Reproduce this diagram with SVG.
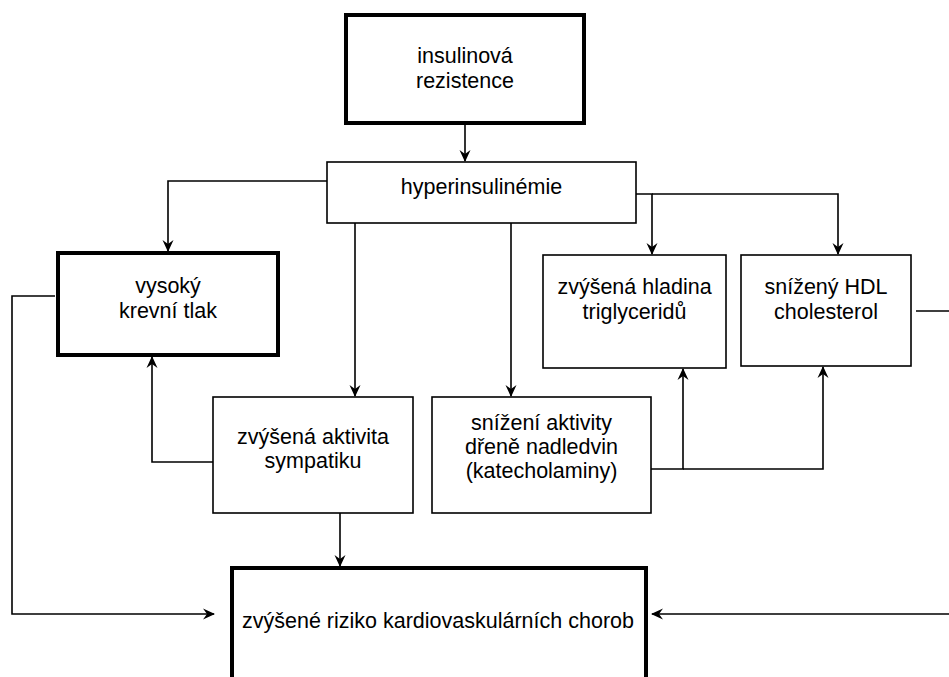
<svg xmlns="http://www.w3.org/2000/svg" width="949" height="677" viewBox="0 0 949 677">
<style>
  .box { fill: #ffffff; stroke: #000000; stroke-width: 1.6; }
  .thick { fill: #ffffff; stroke: #000000; stroke-width: 4; }
  .lbl { font-family: "Liberation Sans", Arial, Helvetica, sans-serif; font-size: 21.5px; fill: #000000; text-anchor: middle; }
  .conn { fill: none; stroke: #000000; stroke-width: 1.6; marker-end: url(#arr); }
</style>
<defs>
  <marker id="arr" viewBox="0 0 12 12" refX="11" refY="6" markerWidth="12" markerHeight="12" markerUnits="userSpaceOnUse" orient="auto">
    <path d="M0,0.5 L12,6 L0,11.5 L4,6 Z" fill="#000000"/>
  </marker>
</defs>
<rect width="949" height="677" fill="#ffffff"/>
<g id="connectors">
  <path class="conn" d="M465,123 V161"/>
  <path class="conn" d="M327,181 H168 V251"/>
  <path class="conn" d="M355,223 V396"/>
  <path class="conn" d="M511,223 V396"/>
  <path class="conn" d="M636,194 H652 V254"/>
  <path class="conn" d="M652,194 H838 V254"/>
  <path class="conn" d="M213,462 H152 V357"/>
  <path class="conn" d="M55,296 H12 V614 H214"/>
  <path class="conn" d="M651,469 H683 V369"/>
  <path class="conn" d="M683,469 H823 V367"/>
  <path class="conn" d="M340,513 V566"/>
  <path class="conn" d="M916,311 H952 V614 H652"/>
</g>
<g id="insulinova-rezistence">
  <rect class="thick" x="346" y="15" width="238" height="108"/>
  <text class="lbl" x="465" y="63">insulinová</text>
  <text class="lbl" x="465" y="88">rezistence</text>
</g>
<g id="hyperinsulinemie">
  <rect class="box" x="327" y="162" width="309" height="61"/>
  <text class="lbl" x="481.5" y="194">hyperinsulinémie</text>
</g>
<g id="vysoky-krevni-tlak">
  <rect class="thick" x="58" y="253" width="220" height="102"/>
  <text class="lbl" x="168" y="293">vysoký</text>
  <text class="lbl" x="168" y="318">krevní tlak</text>
</g>
<g id="trigliceridy">
  <rect class="box" x="543" y="255" width="183" height="113"/>
  <text class="lbl" x="634.5" y="294">zvýšená hladina</text>
  <text class="lbl" x="634.5" y="319">triglyceridů</text>
</g>
<g id="hdl">
  <rect class="box" x="741" y="255" width="170" height="111"/>
  <text class="lbl" x="826" y="294">snížený HDL</text>
  <text class="lbl" x="826" y="319">cholesterol</text>
</g>
<g id="sympatikus">
  <rect class="box" x="213" y="397" width="200" height="116"/>
  <text class="lbl" x="313" y="444">zvýšená aktivita</text>
  <text class="lbl" x="313" y="468">sympatiku</text>
</g>
<g id="dren-nadledvin">
  <rect class="box" x="432" y="397" width="219" height="116"/>
  <text class="lbl" x="541.5" y="430">snížení aktivity</text>
  <text class="lbl" x="541.5" y="454">dřeně nadledvin</text>
  <text class="lbl" x="541.5" y="478">(katecholaminy)</text>
</g>
<g id="kardiovaskularni-riziko">
  <rect class="thick" x="232" y="568" width="414" height="130"/>
  <text class="lbl" x="438" y="628">zvýšené riziko kardiovaskulárních chorob</text>
</g>
</svg>
